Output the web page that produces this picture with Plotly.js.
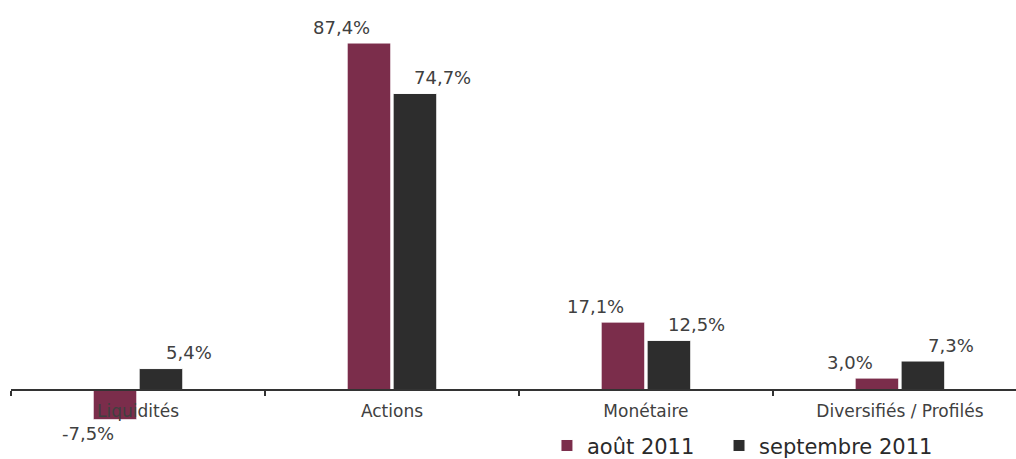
<!DOCTYPE html>
<html>
<head>
<meta charset="utf-8">
<script src="https://cdn.plot.ly/plotly-3.0.1.min.js"></script>
<style>
html,body{margin:0;padding:0;background:#fff;}
#chart{width:1016px;height:459px;}
</style>
</head>
<body>
<div id="chart"></div>
<script>
// ---- data ----
var categories = ["Liquidités", "Actions", "Monétaire", "Diversifiés / Profilés"];
var seriesNames = ["août 2011", "septembre 2011"];
var aout2011 = [-7.5, 87.4, 17.1, 3.0];
var septembre2011 = [5.4, 74.7, 12.5, 7.3];

// ---- styles ----
var colors = ["#7b2d4b", "#2d2d2d"];
var FONT = "DejaVu Sans, Verdana, sans-serif";
var textColor = "#404040";

var yRange = [-17.38, 98.24];
var zeroPos = (0 - yRange[0]) / (yRange[1] - yRange[0]);

function fmt(v) { return v.toFixed(1).replace('.', ',') + '%'; }

var seriesValues = [aout2011, septembre2011];
var legendIds = ['legend', 'legend2'];
var traces = seriesValues.map(function (vals, i) {
  return {
    type: 'bar',
    name: seriesNames[i],
    x: categories,
    y: vals,
    legend: legendIds[i],
    marker: { color: colors[i], line: { color: '#ffffff', width: 1 } },
    hoverinfo: 'none'
  };
});

var xShifts = [-50, 51];
var annotations = [];
seriesValues.forEach(function (vals, i) {
  vals.forEach(function (v, j) {
    annotations.push({
      xref: 'x', yref: 'y',
      x: categories[j], y: v,
      text: fmt(v),
      showarrow: false,
      xshift: xShifts[i],
      yshift: v >= 0 ? 16 : -14,
      font: { family: FONT, size: 18, color: textColor }
    });
  });
});

function legendStyle(x) {
  return {
    orientation: 'h',
    x: x, xanchor: 'left',
    y: -0.016, yanchor: 'bottom',
    font: { family: FONT, size: 21, color: '#2a2a2a' },
    bgcolor: 'rgba(0,0,0,0)',
    itemwidth: 30
  };
}

var layout = {
  width: 1016, height: 459,
  margin: { l: 11, r: 0, t: 0, b: 0, pad: 0, autoexpand: false },
  paper_bgcolor: '#ffffff',
  plot_bgcolor: '#ffffff',
  barmode: 'group',
  bargap: 0.638,
  bargroupgap: 0.05,
  showlegend: true,
  legend: legendStyle(0.5333),
  legend2: legendStyle(0.7045),
  xaxis: {
    type: 'category',
    range: [-0.5, 3.457],
    anchor: 'free',
    position: zeroPos,
    showline: true, linecolor: '#333333', linewidth: 2,
    ticks: 'outside', tickson: 'boundaries', ticklen: 5, tickwidth: 1.5, tickcolor: '#333333',
    ticklabelstandoff: 6,
    showgrid: false, zeroline: false,
    tickfont: { family: FONT, size: 17, color: textColor },
    fixedrange: true
  },
  yaxis: {
    range: yRange,
    visible: false,
    showgrid: false, zeroline: false,
    fixedrange: true
  },
  annotations: annotations
};

Plotly.newPlot('chart', traces, layout, { displayModeBar: false, staticPlot: true });
</script>
</body>
</html>
